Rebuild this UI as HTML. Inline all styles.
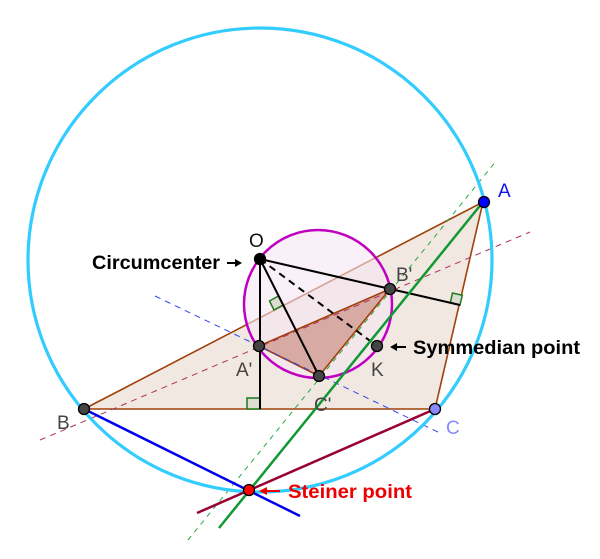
<!DOCTYPE html>
<html><head><style>html,body{margin:0;padding:0;background:#fff}svg{display:block}</style></head>
<body>
<svg width="600" height="559" viewBox="0 0 600 559" xmlns="http://www.w3.org/2000/svg" font-family="Liberation Sans, Arial, sans-serif">
<polygon points="84,409 483,202 435,409" fill="#f1e8e2" stroke="#a0400a" stroke-width="1.6"/>
<circle cx="318" cy="304" r="74" fill="#f6e6f4" fill-opacity="0.6" stroke="#c000c0" stroke-width="2.5"/>
<polygon points="259,346 390,289 319,376" fill="#d8aaa4" stroke="#a0400a" stroke-width="1.6"/>
<line x1="155" y1="296" x2="442" y2="434" stroke="#3344ee" stroke-width="1" stroke-dasharray="6,5"/>
<line x1="40" y1="440" x2="530" y2="232" stroke="#b03060" stroke-width="1" stroke-dasharray="6,5"/>
<line x1="188" y1="540" x2="497" y2="160" stroke="#22aa44" stroke-width="1" stroke-dasharray="5,5"/>
<polygon points="247,398 260,398 260,409 247,409" fill="#dcdcd0" stroke="#1a7a1a" stroke-width="1.5"/>
<polygon points="283,305 274,310 269.5,301 278.4,296" fill="#dcdcd0" stroke="#1a7a1a" stroke-width="1.5"/>
<polygon points="460,305 450.3,302.8 452.5,293 462.3,295.3" fill="#dcdcd0" stroke="#1a7a1a" stroke-width="1.5"/>
<line x1="260" y1="259" x2="260" y2="409" stroke="#000" stroke-width="2"/>
<line x1="260" y1="259" x2="319" y2="376" stroke="#000" stroke-width="2"/>
<line x1="260" y1="259" x2="460" y2="305" stroke="#000" stroke-width="2"/>
<line x1="260" y1="259" x2="377" y2="346" stroke="#000" stroke-width="2" stroke-dasharray="7,5"/>
<circle cx="260" cy="260" r="232" fill="none" stroke="#33ccff" stroke-width="3.2"/>
<line x1="84" y1="409" x2="300" y2="516" stroke="#0000ee" stroke-width="2.5"/>
<line x1="435" y1="409" x2="197" y2="513" stroke="#990033" stroke-width="2.5"/>
<line x1="219" y1="528" x2="483" y2="202" stroke="#119933" stroke-width="2.5"/>
<g stroke="#000" stroke-width="1.3">
<circle cx="84" cy="409" r="5.5" fill="#444"/>
<circle cx="259" cy="346" r="5.5" fill="#444"/>
<circle cx="390" cy="289" r="5.5" fill="#444"/>
<circle cx="319" cy="376" r="5.5" fill="#444"/>
<circle cx="377" cy="346" r="5.5" fill="#444"/>
<circle cx="260" cy="259" r="5.5" fill="#000"/>
<circle cx="484" cy="202" r="5.5" fill="#0000ff"/>
<circle cx="435" cy="409" r="5.5" fill="#8888ff"/>
<circle cx="249" cy="490" r="5.5" fill="#ff0000"/>
</g>
<g font-size="19" fill="#444">
<text x="57" y="429">B</text>
<text x="236" y="376">A'</text>
<text x="314" y="411">C'</text>
<text x="371" y="376">K</text>
<text x="396" y="281">B'</text>
<text x="249" y="247" fill="#111">O</text>
</g>
<text x="498" y="197" font-size="19" fill="#1010ee">A</text>
<text x="446" y="434" font-size="19" fill="#8888ff">C</text>
<g font-size="19" font-weight="bold" fill="#000">
<text x="92" y="269" textLength="128" lengthAdjust="spacingAndGlyphs">Circumcenter</text>
<text x="413" y="354" textLength="167" lengthAdjust="spacingAndGlyphs">Symmedian point</text>
</g>
<line x1="227" y1="263" x2="238" y2="263" stroke="#000" stroke-width="2"/>
<polygon points="242,263 235,259 235,267" fill="#000"/>
<line x1="394" y1="347" x2="406" y2="347" stroke="#000" stroke-width="2"/>
<polygon points="390,347 397,343 397,351" fill="#000"/>
<text x="288" y="498" font-size="19" font-weight="bold" fill="#ee0000" textLength="124" lengthAdjust="spacingAndGlyphs">Steiner point</text>
<line x1="264" y1="491" x2="280" y2="491" stroke="#ee0000" stroke-width="2"/>
<polygon points="259,491 267,487 267,495" fill="#ee0000"/>
</svg>
</body></html>
